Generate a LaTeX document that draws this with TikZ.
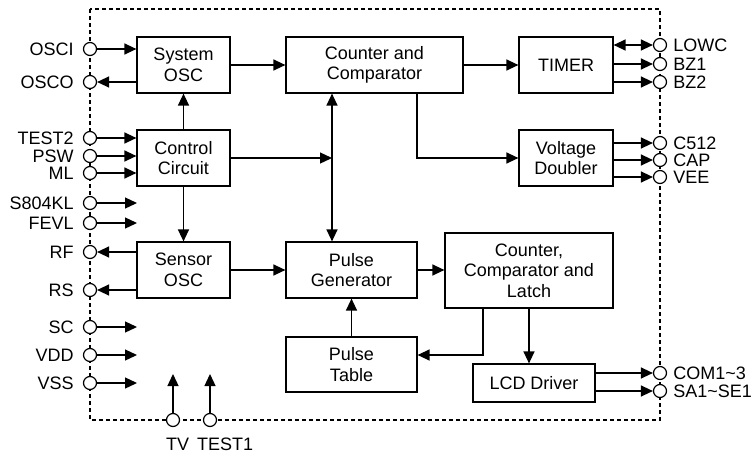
\documentclass[tikz,border=0pt]{standalone}
\usepackage{fontspec}
\setmainfont{Liberation Sans}
\usetikzlibrary{arrows.meta,calc}
\begin{document}
\begin{tikzpicture}[x=1pt,y=-1pt,
  every node/.style={font=\fontsize{18}{20.5}\selectfont},
  blk/.style={draw,line width=1.2pt,align=center,inner sep=0pt},
  pin/.style={draw,circle,line width=1.2pt,fill=white,minimum size=13pt,inner sep=0pt},
  conn/.style={line width=1.3pt,-{Triangle[length=12pt,width=11pt]}},
  biconn/.style={line width=1.3pt,{Triangle[length=12pt,width=11pt]}-{Triangle[length=12pt,width=11pt]}},
  border/.style={line width=1.2pt,dash pattern=on 4pt off 3pt},
  lpin/.style={pin,label={[inner sep=0pt,label distance=9pt]left:#1}},
  rpin/.style={pin,label={[inner sep=0pt,label distance=6pt]right:#1}}]
\useasboundingbox (0,0) rectangle (753,453);
\draw[border] (90,9) rectangle (660,420);
% blocks
\node[blk,minimum width=93pt,minimum height=56pt] (sysosc) at (183.5,65) {System\\OSC};
\node[blk,minimum width=93pt,minimum height=56pt] (ctrl) at (183.5,158) {Control\\Circuit};
\node[blk,minimum width=93pt,minimum height=56pt] (sensor) at (183.5,270) {Sensor\\OSC};
\node[blk,minimum width=177pt,minimum height=56pt] (cntcmp) at (374.5,65) {Counter and\\Comparator};
\node[blk,minimum width=94pt,minimum height=56pt] (timer) at (566,65) {TIMER};
\node[blk,minimum width=94pt,minimum height=56pt] (vdbl) at (566,158) {Voltage\\Doubler};
\node[blk,minimum width=131pt,minimum height=56pt] (pgen) at (351.5,270) {Pulse\\Generator};
\node[blk,minimum width=168pt,minimum height=75pt] (latch) at (529,270.5) {Counter,\\Comparator and\\Latch};
\node[blk,minimum width=131pt,minimum height=55pt] (ptable) at (351.5,364.5) {Pulse\\Table};
\node[blk,minimum width=122pt,minimum height=38pt] (lcd) at (534,383) {LCD Driver};
% left pins
\node[lpin=OSCI] (osci) at (90,49) {};
\node[lpin=OSCO] (osco) at (90,82) {};
\node[lpin=TEST2] (test2) at (90,138) {};
\node[lpin=PSW] (psw) at (90,156) {};
\node[lpin=ML] (ml) at (90,173) {};
\node[lpin=S804KL] (s804) at (90,203) {};
\node[lpin=FEVL] (fevl) at (90,223) {};
\node[lpin=RF] (rf) at (90,252) {};
\node[lpin=RS] (rs) at (90,290) {};
\node[lpin=SC] (sc) at (90,327) {};
\node[lpin=VDD] (vdd) at (90,355) {};
\node[lpin=VSS] (vss) at (90,383) {};
% right pins
\node[rpin=LOWC] (lowc) at (660,45) {};
\node[rpin=BZ1] (bz1) at (660,64) {};
\node[rpin=BZ2] (bz2) at (660,82) {};
\node[rpin=C512] (c512) at (660,143) {};
\node[rpin=CAP] (cap) at (660,160) {};
\node[rpin=VEE] (vee) at (660,177) {};
\node[rpin=COM1\textasciitilde 3] (com) at (660,373) {};
\node[rpin=SA1\textasciitilde SE1] (sa) at (660,391) {};
% bottom pins
\node[pin] (tv) at (173,420) {};
\node[pin] (test1) at (210,420) {};
\node[inner sep=0pt,anchor=base west] (tvl) at (166,450) {TV};
\node[inner sep=0pt,anchor=base west] (test1l) at (197,450) {TEST1};
% free ends
\coordinate (e1) at (137,0);
\coordinate (vx) at (332,0);
\coordinate (vx2) at (417,0);
\coordinate (c1) at (483,355);
\coordinate (up) at (0,374);
% connectors left
\draw[conn] (osci) -- (osci -| sysosc.west);
\draw[conn] (osco -| sysosc.west) -- (osco);
\draw[conn] (test2) -- (test2 -| ctrl.west);
\draw[conn] (psw) -- (psw -| ctrl.west);
\draw[conn] (ml) -- (ml -| ctrl.west);
\draw[conn] (s804) -- (s804 -| e1);
\draw[conn] (fevl) -- (fevl -| e1);
\draw[conn] (rf -| sensor.west) -- (rf);
\draw[conn] (rs -| sensor.west) -- (rs);
\draw[conn] (sc) -- (sc -| e1);
\draw[conn] (vdd) -- (vdd -| e1);
\draw[conn] (vss) -- (vss -| e1);
\draw[conn] (tv) -- (tv |- up);
\draw[conn] (test1) -- (test1 |- up);
% internal
\draw[conn] (ctrl) -- (sysosc);
\draw[conn] (ctrl) -- (sensor);
\draw[conn] (sysosc) -- (cntcmp);
\draw[conn] (sensor) -- (pgen);
\draw[conn] (ctrl.east) -- (ctrl.east -| vx);
\draw[biconn] (cntcmp.south -| vx) -- (pgen.north -| vx);
\draw[conn] (cntcmp.south -| vx2) |- (vdbl.west);
\draw[conn] (cntcmp) -- (timer);
\draw[conn] (pgen.east) -- (pgen.east -| latch.west);
\draw[conn] (latch.south -| c1) |- (ptable.east |- c1);
\draw[conn] (latch.south) -- (latch.south |- lcd.north);
\draw[conn] (ptable) -- (pgen);
% right connectors
\draw[biconn] (timer.east |- lowc) -- (lowc);
\draw[conn] (timer.east |- bz1) -- (bz1);
\draw[conn] (timer.east |- bz2) -- (bz2);
\draw[conn] (vdbl.east |- c512) -- (c512);
\draw[conn] (vdbl.east |- cap) -- (cap);
\draw[conn] (vdbl.east |- vee) -- (vee);
\draw[conn] (lcd.east |- com) -- (com);
\draw[conn] (lcd.east |- sa) -- (sa);
\end{tikzpicture}
\end{document}
